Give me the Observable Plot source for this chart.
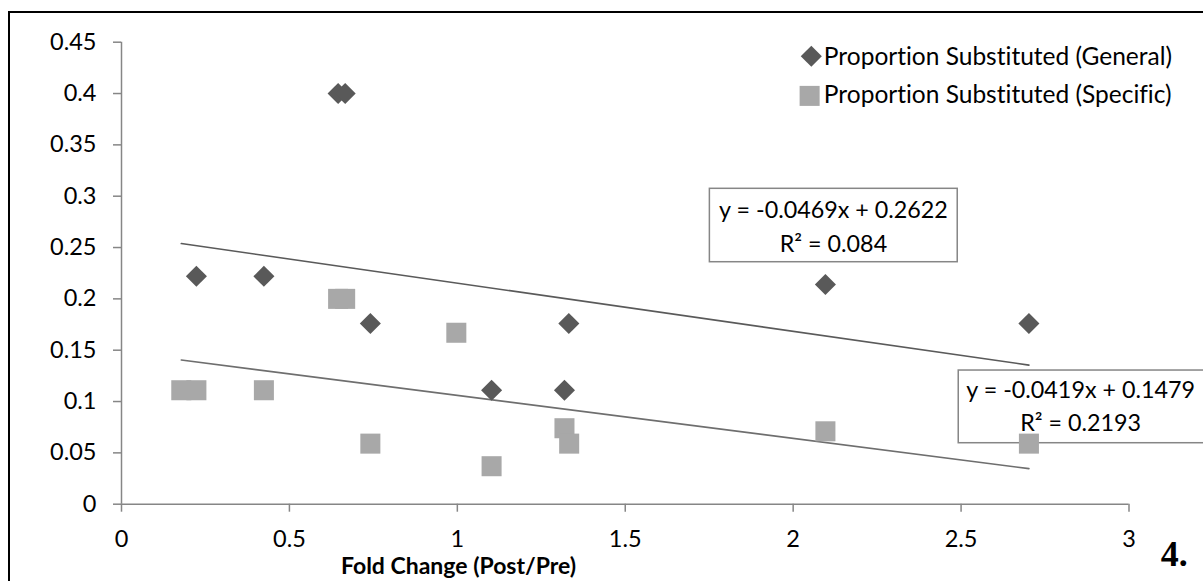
<!DOCTYPE html>
<html>
<head>
<meta charset="utf-8">
<script src="https://cdn.jsdelivr.net/npm/d3@7"></script>
<script src="https://cdn.jsdelivr.net/npm/@observablehq/plot@0.6"></script>
<style>
  html, body { margin: 0; padding: 0; background: #fff; }
  #wrap { position: relative; width: 1203px; height: 581px; overflow: hidden; background: #fff; }
  #frame { position: absolute; left: 8px; top: 11px; width: 3000px; height: 3000px;
           border-left: 2px solid #000; border-top: 2px solid #000; }
  #chart { position: absolute; left: 0; top: 0; }
  #chart svg text { font-variant-ligatures: none; font-feature-settings: "liga" 0, "clig" 0; }
</style>
</head>
<body>
<div id="wrap">
  <div id="frame"></div>
  <div id="chart"></div>
</div>
<script>
// ---- data ----
const generalX = [0.223, 0.424, 0.645, 0.666, 0.741, 1.102, 1.319, 1.332, 2.096, 2.702];
const generalY = [0.222, 0.222, 0.400, 0.400, 0.176, 0.111, 0.111, 0.176, 0.214, 0.176];
const specificX = [0.178, 0.223, 0.424, 0.645, 0.666, 0.741, 0.997, 1.102, 1.319, 1.333, 2.096, 2.702];
const specificY = [0.111, 0.111, 0.111, 0.200, 0.200, 0.059, 0.167, 0.037, 0.074, 0.059, 0.071, 0.059];
const seriesNames = ["Proportion Substituted (General)", "Proportion Substituted (Specific)"];
const trendSlopes = [-0.0469, -0.0419];
const trendIntercepts = [0.2622, 0.1479];
const trendRange = [0.178, 2.702];
const equationLabels = ["y = -0.0469x + 0.2622", "y = -0.0419x + 0.1479"];
const r2Labels = ["R² = 0.084", "R² = 0.2193"];
const xTicks = [0, 0.5, 1, 1.5, 2, 2.5, 3];
const yTicks = [0, 0.05, 0.1, 0.15, 0.2, 0.25, 0.3, 0.35, 0.4, 0.45];
const xTitle = "Fold Change (Post/Pre)";
const panelLabel = "4.";

const general = generalX.map((x, i) => ({x, y: generalY[i]}));
const specific = specificX.map((x, i) => ({x, y: specificY[i]}));
const trend = (k) => trendRange.map(x => ({x, y: trendSlopes[k] * x + trendIntercepts[k]}));

const axisGray = "#868686";
const darkGray = "#595959";
const lightGray = "#a8a8a8";
const font = "Lato, 'Open Sans', sans-serif";
const tickSize = 23.5, legendSize = 24.5, eqSize = 23.3;

const chart = Plot.plot({
  width: 1203,
  height: 581,
  marginLeft: 121,
  marginRight: 74.5,
  marginTop: 41.7,
  marginBottom: 77.3,
  x: {domain: [0, 3], axis: null},
  y: {domain: [0, 0.45], axis: null},
  style: {fontFamily: font, background: "transparent", overflow: "visible"},
  marks: [
    // axes
    Plot.axisY(yTicks, {tickSize: 8, tickPadding: 17, stroke: axisGray, strokeWidth: 1.5,
      fill: "#000", fontSize: tickSize, tickFormat: d => String(d), label: null}),
    Plot.axisX(xTicks, {tickSize: 8, tickPadding: 18, stroke: axisGray, strokeWidth: 1.5,
      fill: "#000", fontSize: tickSize, tickFormat: d => String(d), label: null}),
    Plot.ruleX([0], {stroke: axisGray, strokeWidth: 1.5}),
    Plot.ruleY([0], {stroke: axisGray, strokeWidth: 1.5}),
    // trend lines
    Plot.line(trend(0), {x: "x", y: "y", stroke: "#5a5a5a", strokeWidth: 1.6}),
    Plot.line(trend(1), {x: "x", y: "y", stroke: "#6e6e6e", strokeWidth: 1.6}),
    // equation boxes
    Plot.rect([0], {x1: 1.752, x2: 2.490, y1: 0.2357, y2: 0.3072, fill: "#fff", stroke: axisGray, strokeWidth: 1.5}),
    Plot.rect([0], {x1: 2.493, x2: 3.26, y1: 0.0594, y2: 0.1302, fill: "#fff", stroke: axisGray, strokeWidth: 1.5}),
    Plot.text([equationLabels[0]], {x: 2.12, y: 0.2862, text: d => d, fontSize: eqSize, fill: "#000"}),
    Plot.text([r2Labels[0]], {x: 2.12, y: 0.2529, text: d => d, fontSize: eqSize, fill: "#000"}),
    Plot.text([equationLabels[1]], {x: 2.856, y: 0.1109, text: d => d, fontSize: eqSize, fill: "#000"}),
    Plot.text([r2Labels[1]], {x: 2.856, y: 0.0785, text: d => d, fontSize: eqSize, fill: "#000"}),
    // data
    Plot.dot(general, {x: "x", y: "y", symbol: "diamond2", r: 9.5, fill: darkGray, stroke: "none"}),
    Plot.dot(specific, {x: "x", y: "y", symbol: "square", r: 11.3, fill: lightGray, stroke: "none"}),
    // legend
    Plot.dot([0], {x: 2.054, y: 0.4363, symbol: "diamond2", r: 9.5, fill: darkGray, stroke: "none"}),
    Plot.dot([0], {x: 2.049, y: 0.3977, symbol: "square", r: 11.3, fill: lightGray, stroke: "none"}),
    Plot.text([seriesNames[0]], {x: 2.0914, y: 0.4357, text: d => d, textAnchor: "start", fontSize: legendSize, fill: "#000"}),
    Plot.text([seriesNames[1]], {x: 2.0914, y: 0.3982, text: d => d, textAnchor: "start", fontSize: legendSize, fill: "#000"}),
    // axis title and panel label
    Plot.text([xTitle], {x: 1.0036, y: -0.0605, text: d => d, fontSize: 23, fontWeight: "bold", fill: "#000"}),
    Plot.text([panelLabel], {x: 3.135, y: -0.0485, text: d => d, fontSize: 36, fontWeight: "bold",
      fontFamily: "'Liberation Serif', 'DejaVu Serif', serif", fill: "#000"})
  ]
});
document.getElementById("chart").appendChild(chart);
</script>
</body>
</html>
